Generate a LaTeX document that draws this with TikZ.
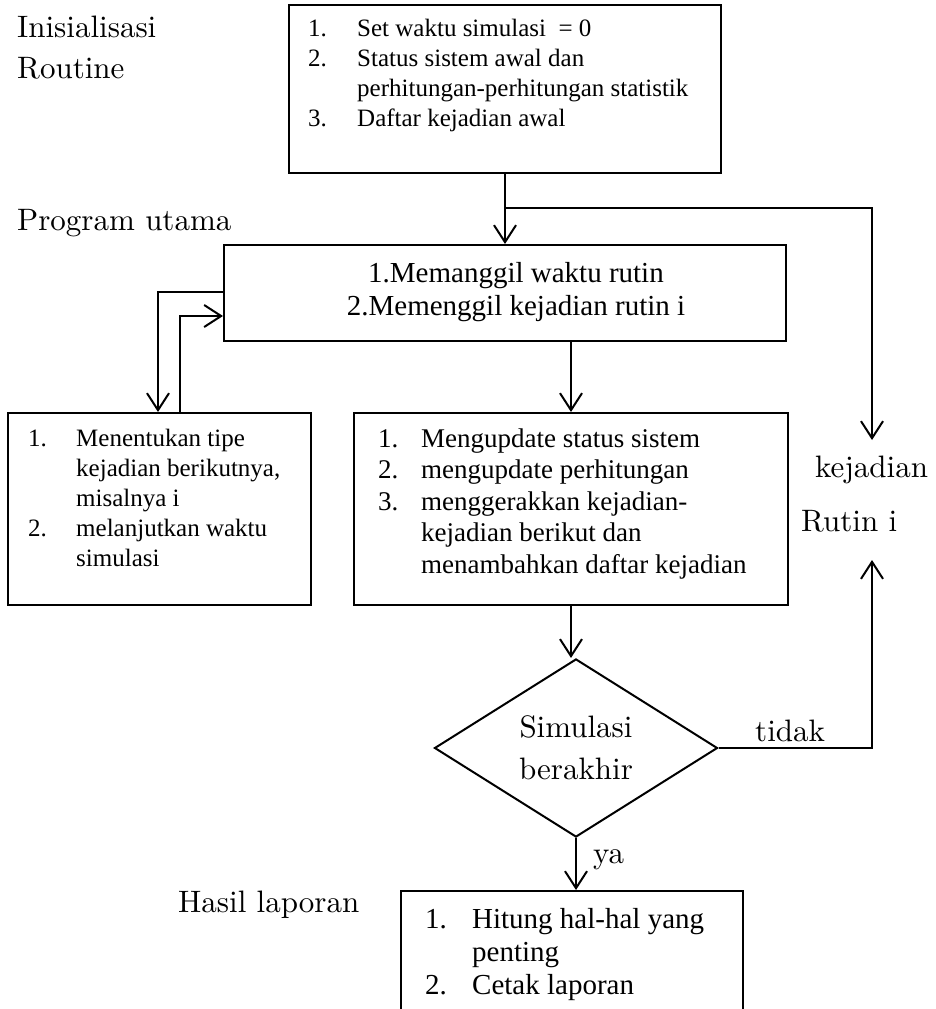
\documentclass[tikz,border=0pt]{standalone}
\usepackage{fontspec}
\newfontfamily\tms{Liberation Serif}
\newfontfamily\lmten{lmroman10-regular.otf}
\usetikzlibrary{arrows.meta,shapes.geometric,calc}
\begin{document}
\begin{tikzpicture}[x=1pt,y=-1pt,
  box/.style={draw, line width=2pt, inner sep=0pt, anchor=north west},
  arr/.style={line width=2pt, -{Straight Barb[length=17pt,width=22pt,line width=2pt]}},
  lbl/.style={font=\lmten\fontsize{31}{40}\selectfont, inner sep=0pt, anchor=base west},
  txt/.style={inner sep=0pt, anchor=north west},
]
\useasboundingbox (0,0) rectangle (936,1009);
\clip (0,0) rectangle (936,1009);

% boxes
\node[box, minimum width=432, minimum height=168] (init) at (288,4) {};
\node[box, minimum width=562, minimum height=96] (main) at (223,244) {};
\node[box, minimum width=303, minimum height=192] (left) at (7,412) {};
\node[box, minimum width=434, minimum height=192] (mid) at (353,412) {};
\node[box, minimum width=342, minimum height=160] (hasil) at (400,890) {};
\node[draw, diamond, line width=2pt, minimum width=283, minimum height=143, inner sep=0pt,
      align=center, font=\lmten\fontsize{31}{42}\selectfont] (dec) at (576,748) {Simulasi\\berakhir};

% box texts
\node[txt, font=\tms\fontsize{25}{30}\selectfont] (initt) at (308,15) {%
\begin{tabular}{@{}p{49pt}@{}l@{}}
1. & Set waktu simulasi \ = 0\\
2. & Status sistem awal dan\\
   & perhitungan-perhitungan statistik\\
3. & Daftar kejadian awal
\end{tabular}};

\node[inner sep=0pt, anchor=north, font=\tms\fontsize{29}{33}\selectfont] (maint) at (516,259) {%
\begin{tabular}{@{}c@{}}
1.Memanggil waktu rutin\\
2.Memenggil kejadian rutin i
\end{tabular}};

\node[txt, font=\tms\fontsize{25}{30}\selectfont] (leftt) at (28,425) {%
\begin{tabular}{@{}p{48pt}@{}l@{}}
1. & Menentukan tipe\\
   & kejadian berikutnya,\\
   & misalnya i\\
2. & melanjutkan waktu\\
   & simulasi
\end{tabular}};

\node[txt, font=\tms\fontsize{27}{31.5}\selectfont] (midt) at (378,425) {%
\begin{tabular}{@{}p{43pt}@{}l@{}}
1. & Mengupdate status sistem\\
2. & mengupdate perhitungan\\
3. & menggerakkan kejadian-\\
   & kejadian berikut dan\\
   & menambahkan daftar kejadian
\end{tabular}};

\node[txt, font=\tms\fontsize{29}{33}\selectfont] (hasilt) at (425,905) {%
\begin{tabular}{@{}p{47pt}@{}l@{}}
1. & Hitung hal-hal yang\\
   & penting\\
2. & Cetak laporan
\end{tabular}};

% labels
\node[lbl] (l1) at (17,37) {Inisialisasi};
\node[lbl] (l2) at (17,78) {Routine};
\node[lbl] (l3) at (17,230) {Program utama};
\node[lbl] (l4) at (815,477) {kejadian};
\node[lbl] (l5) at (801,531) {Rutin i};
\node[lbl] (l6) at (755,741) {tidak};
\node[lbl] (l7) at (593,863) {ya};
\node[lbl] (l8) at (178,912) {Hasil laporan};

% connector ends
\coordinate (kejin) at (872,440);
\coordinate (rutinin) at (872,560);

% connectors
\draw[arr] (init.south) -- (main.north);
\draw[arr] ($(init.south)+(0,34)$) -| (kejin);
\draw[arr] (main.south -| mid.north) -- (mid.north);
\draw[arr] ($(main.north west)+(0,48)$) -| ($(left.north west)+(151,0)$);
\draw[arr] ($(left.north west)+(173,0)$) |- ($(main.north west)+(0,72)$);
\draw[arr] (mid.south) -- (mid.south |- dec.north);
\draw[arr] (dec.east) -| (rutinin);
\draw[arr] (dec.south) -- (dec.south |- hasil.north);
\end{tikzpicture}
\end{document}
